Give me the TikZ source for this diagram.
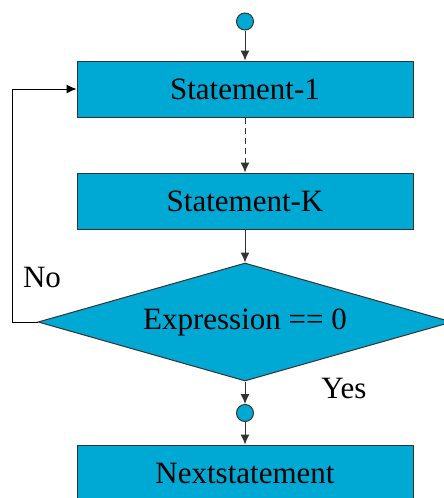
\documentclass[tikz,border=0pt]{standalone}
\usepackage{fontspec}
\setmainfont{Liberation Serif}
\usetikzlibrary{shapes.geometric,arrows.meta}
\definecolor{boxblue}{RGB}{0,168,212}

\begin{document}
\begin{tikzpicture}[x=1pt,y=-1pt,
  every node/.style={font=\fontsize{31}{36}\selectfont},
  stmt/.style={draw=black!80,line width=1pt,fill=boxblue,minimum width=336pt,minimum height=56pt,inner sep=0pt},
  cond/.style={draw=black!80,line width=1pt,fill=boxblue,diamond,aspect=3.44,minimum width=414pt,minimum height=118pt,inner sep=0pt},
  dot/.style={draw=black!80,line width=1pt,fill=boxblue,circle,minimum size=17pt,inner sep=0pt},
  >={Latex[length=10pt,width=9pt]}]
\useasboundingbox (0,0) rectangle (444,498);
\node [dot] (start) at (245,21.5) {};
\node [stmt] (s1) at (245,89) {Statement-1};
\node [stmt] (sk) at (245,201) {Statement-K};
\node [cond] (expr) at (245,322) {Expression == 0};
\node [dot] (join) at (245,413) {};
\node [stmt] (next) at (245,473) {Nextstatement};
\draw [line width=1pt,black!80,->] (start)--(s1);
\draw [line width=1pt,black!80,dash pattern=on 6pt off 4pt,->] (s1)--(sk);
\draw [line width=1pt,black!80,->] (sk)--(expr);
\draw [line width=1pt,black!80,->] (expr)--(join);
\draw [line width=1pt,black!80,->] (join)--(next);
\draw [line width=1pt,->] (expr.west)--++(-25,0) |- (s1.west);
\node (no) at (42,277) {No};
\node (yes) at (344,388) {Yes};
\end{tikzpicture}
\end{document}
